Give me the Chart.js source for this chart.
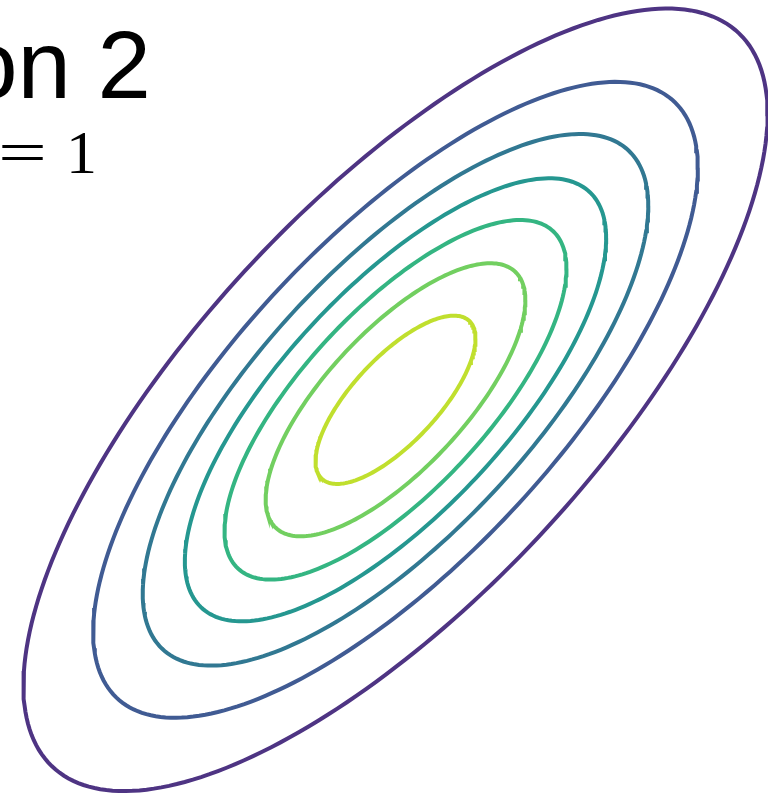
<!DOCTYPE html>
<html>
<head>
<meta charset="utf-8">
<script src="https://cdn.jsdelivr.net/npm/chart.js@4/dist/chart.umd.min.js"></script>
<style>
  html, body { margin: 0; padding: 0; background: #ffffff; }
  #wrap { width: 768px; height: 796px; position: relative; }
</style>
</head>
<body>
<div id="wrap"><canvas id="contourChart"></canvas></div>
<script>
// gaussian parameters
const mean = [0, 0];
const sigma = [1.842, 1.937];
const rho = 0.73;

// contour levels, as a fraction of the peak density
const levels = [0.13, 0.26, 0.39, 0.52, 0.65, 0.78, 0.91];
const levelColors = ['#4e3483', '#405b93', '#317892', '#259790', '#34b582', '#72cf60', '#c0df2e'];

// visible window
const xRange = [-3.955, 3.725];
const yRange = [-3.962, 3.998];

const titleText = 'on 2';
const subtitleText = '= 1';

// trace the level set of the density for one contour level
function contourPoints(level) {
    const r = Math.sqrt(-2 * Math.log(level));
    const l11 = sigma[0];
    const l21 = rho * sigma[1];
    const l22 = sigma[1] * Math.sqrt(1 - rho * rho);
    const pts = [];
    const n = 240;
    for (let i = 0; i <= n; i++) {
        const t = 2 * Math.PI * i / n;
        const u = r * Math.cos(t), v = r * Math.sin(t);
        pts.push({ x: mean[0] + l11 * u, y: mean[1] + l21 * u + l22 * v });
    }
    return pts;
}

const datasets = levels.map((lv, i) => ({
    label: 'level ' + lv,
    data: contourPoints(lv),
    showLine: true,
    borderColor: levelColors[i],
    borderWidth: 4,
    pointRadius: 0,
    fill: false,
    tension: 0
}));

// draws the heading text in the top left corner
const headingPlugin = {
    id: 'heading',
    afterDraw(chart) {
        const ctx = chart.ctx;
        ctx.save();
        ctx.fillStyle = '#000000';
        ctx.textBaseline = 'alphabetic';
        ctx.textAlign = 'right';
        ctx.font = '96px "Liberation Sans", Arial, sans-serif';
        ctx.fillText(titleText, 151, 98);

        // math line: wide '=' sign, then the value
        const parts = subtitleText.split(' ');
        ctx.font = '62px "Liberation Serif", "Times New Roman", serif';
        ctx.fillText(parts[1], 97, 173);
        ctx.save();
        ctx.translate(-2, 173);
        ctx.scale(1.4, 1);
        ctx.textAlign = 'left';
        ctx.fillText(parts[0], 0, 0);
        ctx.restore();
        ctx.restore();
    }
};

new Chart(document.getElementById('contourChart'), {
    type: 'scatter',
    data: { datasets: datasets },
    options: {
        responsive: true,
        maintainAspectRatio: false,
        animation: false,
        layout: { padding: 0 },
        plugins: {
            legend: { display: false },
            tooltip: { enabled: false }
        },
        scales: {
            x: { type: 'linear', min: xRange[0], max: xRange[1], display: false },
            y: { type: 'linear', min: yRange[0], max: yRange[1], display: false }
        }
    },
    plugins: [headingPlugin]
});
</script>
</body>
</html>
